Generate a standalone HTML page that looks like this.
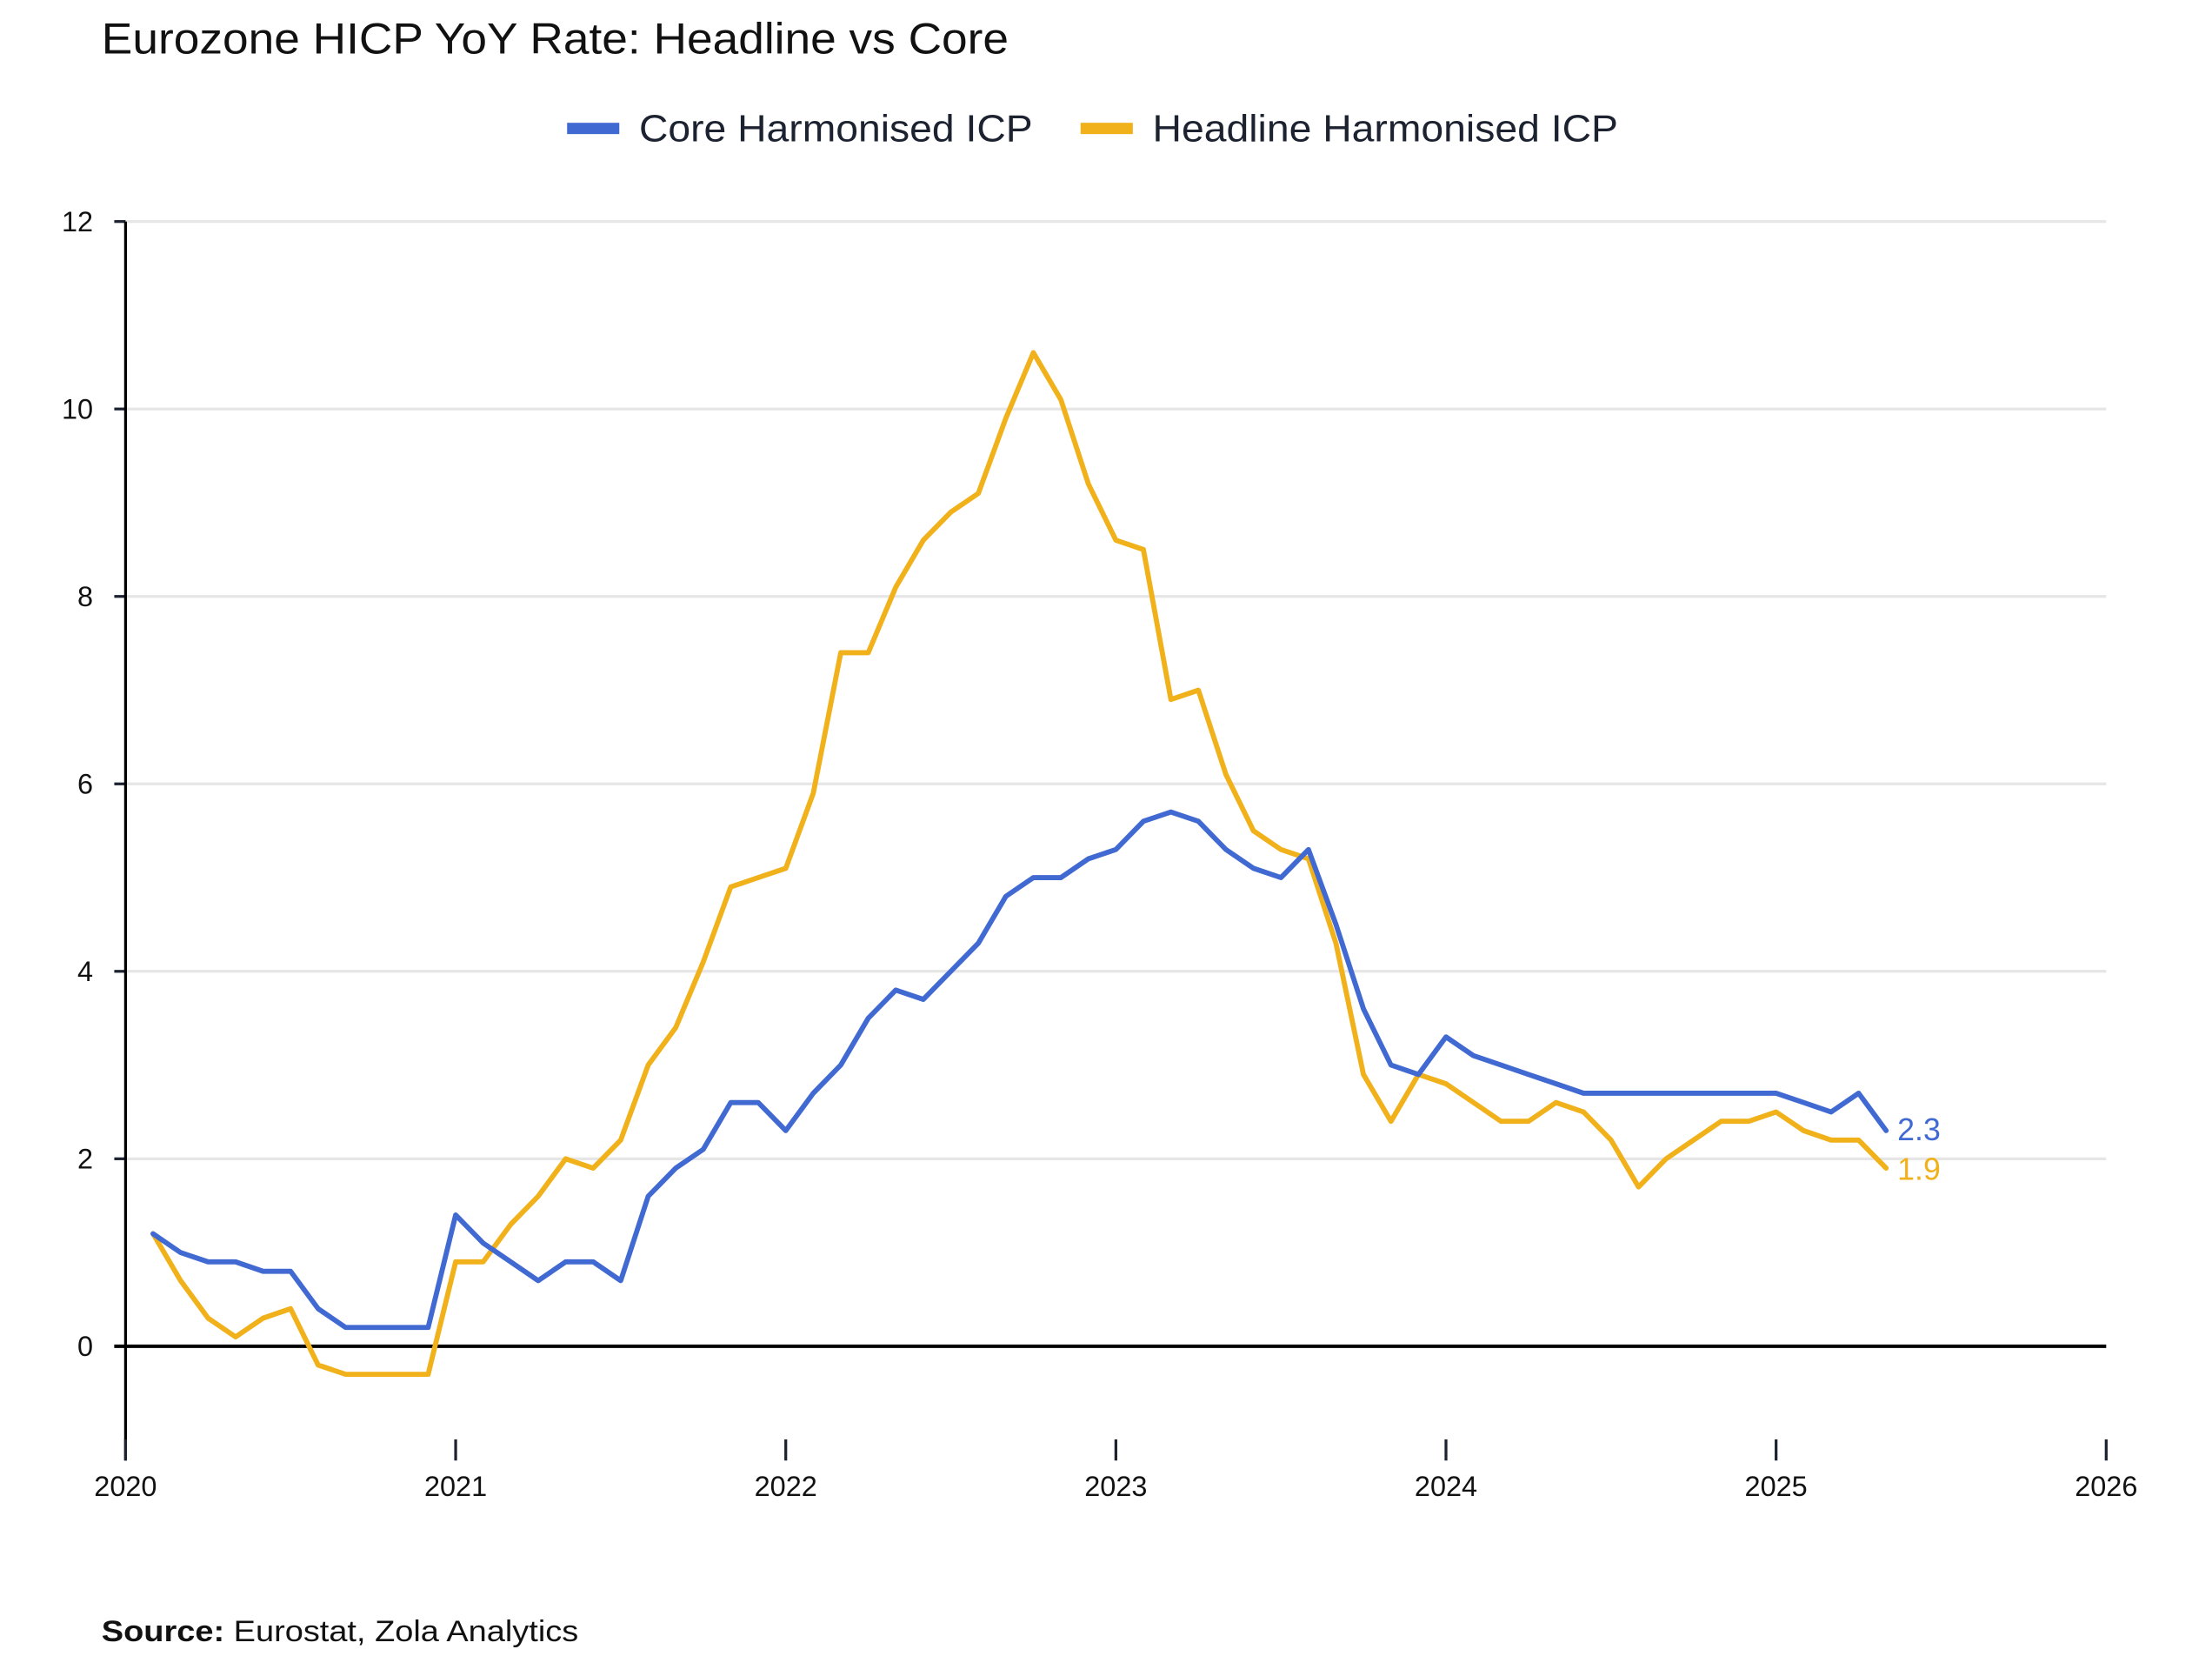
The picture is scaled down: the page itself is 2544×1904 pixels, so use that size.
<!DOCTYPE html>
<html><head><meta charset="utf-8"><style>
html,body{margin:0;padding:0;background:#fff;}
svg{display:block;}
text{font-family:"Liberation Sans",sans-serif;}
</style></head><body>
<svg id="s" width="2544" height="1904" viewBox="0 0 1568 1173.5" xmlns="http://www.w3.org/2000/svg">
<rect width="1568" height="1173.5" fill="#fff"/>
<text x="72" y="38" font-size="31" fill="#111" textLength="643" lengthAdjust="spacingAndGlyphs">Eurozone HICP YoY Rate: Headline vs Core</text>
<rect x="402" y="87" width="37" height="8" fill="#4169d2"/>
<text x="453" y="100" font-size="27" fill="#1c2230" textLength="279" lengthAdjust="spacingAndGlyphs">Core Harmonised ICP</text>
<rect x="766" y="87" width="37" height="8" fill="#f0b11a"/>
<text x="817" y="100" font-size="27" fill="#1c2230" textLength="330" lengthAdjust="spacingAndGlyphs">Headline Harmonised ICP</text>
<g id="grid" stroke="#e6e6e6" stroke-width="2"></g>
<g id="yl" font-size="20" fill="#111" text-anchor="end"></g>
<line x1="81" y1="954" x2="1493" y2="954" stroke="#000" stroke-width="2.5"/>
<line x1="89" y1="157" x2="89" y2="1035" stroke="#000" stroke-width="2"/>
<g id="xl" font-size="20" fill="#111" text-anchor="middle"></g>
<polyline id="h" fill="none" stroke="#f0b11a" stroke-width="3.6" stroke-linejoin="round" stroke-linecap="round"/>
<polyline id="c" fill="none" stroke="#4169d2" stroke-width="3.6" stroke-linejoin="round" stroke-linecap="round"/>
<text x="1345" y="808" font-size="22" fill="#4169d2">2.3</text>
<text x="1345" y="836" font-size="22" fill="#f0b11a">1.9</text>
<text x="72" y="1163" font-size="21" fill="#111" textLength="338" lengthAdjust="spacingAndGlyphs"><tspan font-weight="bold">Source:</tspan> Eurostat, Zola Analytics</text>
</svg>
<script>
var NS="http://www.w3.org/2000/svg";
function Y(v){return 954-v*66.42;}
function X(i){return 89+19.5*(i+1);}
var g=document.getElementById('grid'),yl=document.getElementById('yl'),xl=document.getElementById('xl');
for(var v=2;v<=12;v+=2){var l=document.createElementNS(NS,'line');l.setAttribute('x1',89);l.setAttribute('x2',1493);l.setAttribute('y1',Y(v));l.setAttribute('y2',Y(v));g.appendChild(l);}
for(var v=0;v<=12;v+=2){var t=document.createElementNS(NS,'text');t.setAttribute('x',66);t.setAttribute('y',Y(v)+7);t.textContent=v;yl.appendChild(t);
var k=document.createElementNS(NS,'line');k.setAttribute('x1',81);k.setAttribute('x2',89);k.setAttribute('y1',Y(v));k.setAttribute('y2',Y(v));k.setAttribute('stroke','#1c2230');k.setAttribute('stroke-width',2);yl.appendChild(k);}
for(var y=0;y<=6;y++){var x=89+234*y;var k=document.createElementNS(NS,'line');k.setAttribute('x1',x);k.setAttribute('x2',x);k.setAttribute('y1',1020);k.setAttribute('y2',1035);k.setAttribute('stroke','#1c2230');k.setAttribute('stroke-width',2);xl.appendChild(k);
var t=document.createElementNS(NS,'text');t.setAttribute('x',x);t.setAttribute('y',1060);t.textContent=2020+y;xl.appendChild(t);}
var core=[1.2,1.0,0.9,0.9,0.8,0.8,0.4,0.2,0.2,0.2,0.2,
1.4,1.1,0.9,0.7,0.9,0.9,0.7,1.6,1.9,2.1,2.6,2.6,
2.3,2.7,3.0,3.5,3.8,3.7,4.0,4.3,4.8,5.0,5.0,5.2,
5.3,5.6,5.7,5.6,5.3,5.1,5.0,5.3,4.5,3.6,3.0,2.9,
3.3,3.1,3.0,2.9,2.8,2.7,2.7,2.7,2.7,2.7,2.7,2.7,
2.7,2.6,2.5,2.7,2.3];
var head=[1.2,0.7,0.3,0.1,0.3,0.4,-0.2,-0.3,-0.3,-0.3,-0.3,
0.9,0.9,1.3,1.6,2.0,1.9,2.2,3.0,3.4,4.1,4.9,5.0,
5.1,5.9,7.4,7.4,8.1,8.6,8.9,9.1,9.9,10.6,10.1,9.2,
8.6,8.5,6.9,7.0,6.1,5.5,5.3,5.2,4.3,2.9,2.4,2.9,
2.8,2.6,2.4,2.4,2.6,2.5,2.2,1.7,2.0,2.2,2.4,2.4,
2.5,2.3,2.2,2.2,1.9];
function pts(a){return a.map(function(v,i){return X(i).toFixed(1)+','+Y(v).toFixed(1);}).join(' ');}
document.getElementById('c').setAttribute('points',pts(core));
document.getElementById('h').setAttribute('points',pts(head));
</script>
</body></html>
